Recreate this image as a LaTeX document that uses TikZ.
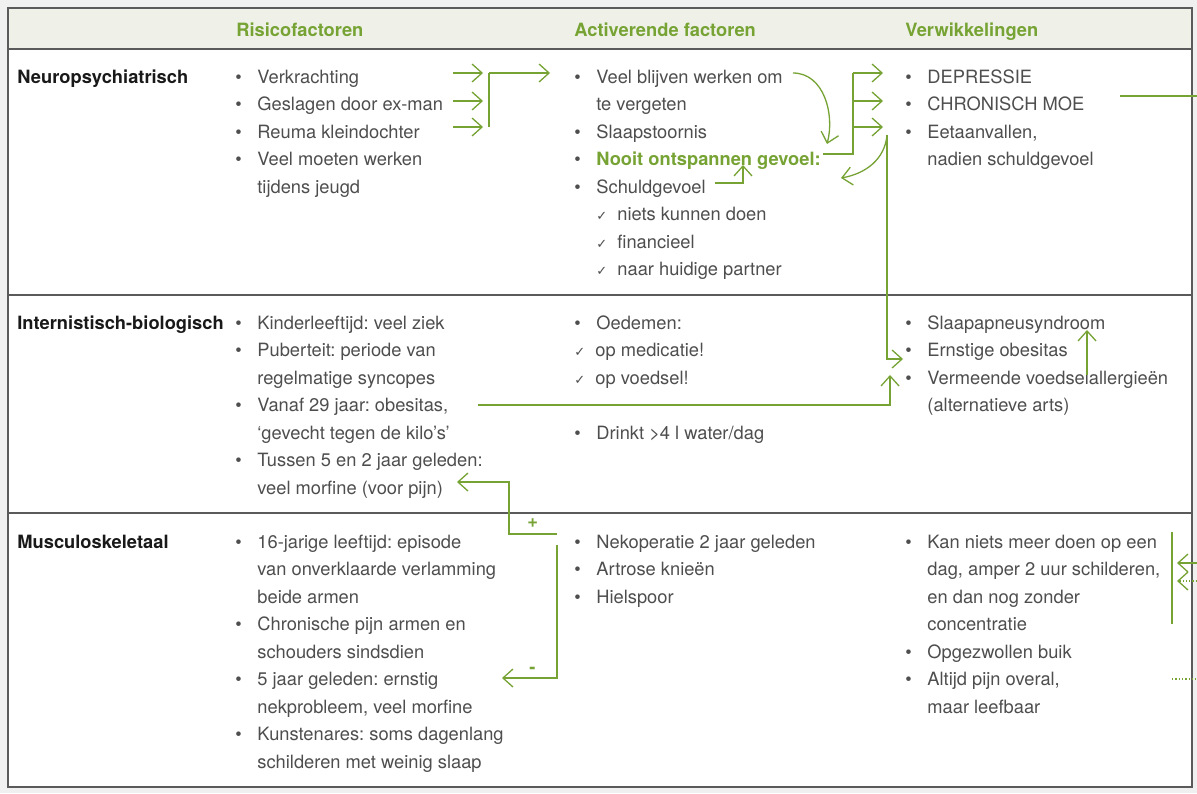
\documentclass[tikz,border=0pt]{standalone}
\usepackage{fontspec}
\setmainfont{TeX Gyre Heros}
\newfontfamily\symf{DejaVu Sans}
\usetikzlibrary{arrows.meta}
\frenchspacing

\definecolor{groen}{RGB}{118,163,52}
\definecolor{tekst}{RGB}{78,78,78}
\definecolor{kader}{RGB}{90,90,90}
\definecolor{kopvul}{RGB}{239,241,232}
\definecolor{achter}{RGB}{239,240,239}

\newcommand{\punt}{\makebox[11pt][l]{•}}
\newcommand{\insp}{\hspace*{11pt}}
\newcommand{\vink}{\makebox[10.5pt][l]{\symf\fontsize{6.5}{6.5}\selectfont ✓}}

\begin{document}
\begin{tikzpicture}[
x=0.5pt, y=-0.5pt,
cel/.style={anchor=base west, align=left, inner sep=0pt, text=tekst, font=\fontsize{9.15}{13.75}\selectfont},
kop/.style={anchor=base west, inner sep=0pt, text=groen, font=\fontsize{9.15}{13.75}\selectfont\bfseries},
rij/.style={anchor=base west, inner sep=0pt, text=black!90, font=\fontsize{9.15}{13.75}\selectfont\bfseries},
pijl/.style={draw=groen, line width=0.65pt, arrows={-{Straight Barb[length=5pt,width=9pt]}}},
lijn/.style={draw=groen, line width=0.65pt}]
% Background and table
\useasboundingbox[fill=achter] (0,0) rectangle (1197,793);
\fill[white] (8,8) rectangle (1192,787);
\fill[kopvul] (8,8) rectangle (1192,49);
\draw[kader, line width=0.6pt] (8,49) -- (1192,49);
\draw[kader, line width=0.6pt] (8,295) -- (1192,295);
\draw[kader, line width=0.6pt] (8,513) -- (1192,513);
\draw[kader, line width=0.7pt] (8,8) rectangle (1192,787);
% Header
\node[kop] (hrisico) at (236,36) {Risicofactoren};
\node[kop] (hactief) at (574,36) {Activerende factoren};
\node[kop] (hverw) at (905,36) {Verwikkelingen};
% Rows
\node[rij] (neuro) at (17,83) {Neuropsychiatrisch};
\node[rij] (intern) at (17,329) {Internistisch-biologisch};
\node[rij] (musc) at (17,548) {Musculoskeletaal};
% Cells (placed at the baseline of their last line)
\node[cel] (r1k1) at (235,193) {\punt Verkrachting\\ \punt Geslagen door ex-man\\ \punt Reuma kleindochter\\ \punt Veel moeten werken\\ \insp tijdens jeugd};
\node[cel] (r1k2) at (574,275.5) {\punt Veel blijven werken om\\ \insp te vergeten\\ \punt Slaapstoornis\\ \punt{\color{groen}\bfseries Nooit ontspannen gevoel:}\\ \punt Schuldgevoel\\ \insp\vink niets kunnen doen\\ \insp\vink financieel\\ \insp\vink naar huidige partner};
\node[cel] (r1k3) at (905,165.5) {\punt DEPRESSIE\\ \punt CHRONISCH MOE\\ \punt Eetaanvallen,\\ \insp nadien schuldgevoel};
\node[cel] (r2k1) at (235,494) {\punt Kinderleeftijd: veel ziek\\ \punt Puberteit: periode van\\ \insp regelmatige syncopes\\ \punt Vanaf 29 jaar: obesitas,\\ \insp ‘gevecht tegen de kilo’s’\\ \punt Tussen 5 en 2 jaar geleden:\\ \insp veel morfine (voor pijn)};
\node[cel] (r2k2) at (574,439) {\punt Oedemen:\\ \vink op medicatie!\\ \vink op voedsel!\\ \mbox{}\\ \punt Drinkt >4 l water/dag};
\node[cel] (r2k3) at (905,411.5) {\punt Slaapapneusyndroom\\ \punt Ernstige obesitas\\ \punt Vermeende voedselallergieën\\ \insp (alternatieve arts)};
\node[cel] (r3k1) at (235,768) {\punt 16-jarige leeftijd: episode\\ \insp van onverklaarde verlamming\\ \insp beide armen\\ \punt Chronische pijn armen en\\ \insp schouders sindsdien\\ \punt 5 jaar geleden: ernstig\\ \insp nekprobleem, veel morfine\\ \punt Kunstenares: soms dagenlang\\ \insp schilderen met weinig slaap};
\node[cel] (r3k2) at (574,603) {\punt Nekoperatie 2 jaar geleden\\ \punt Artrose knieën\\ \punt Hielspoor};
\node[cel] (r3k3) at (905,713) {\punt Kan niets meer doen op een\\ \insp dag, amper 2 uur schilderen,\\ \insp en dan nog zonder\\ \insp concentratie\\ \punt Opgezwollen buik\\ \punt Altijd pijn overal,\\ \insp maar leefbaar};
\node[kop] (plus) at (527,527) {+};
\node[kop] (min) at (529,673) {-};
% Coordinates
\coordinate (verkr) at (453,73);
\coordinate (verkr2) at (483,73);
\coordinate (geslag) at (453,101);
\coordinate (geslag2) at (483,101);
\coordinate (reuma) at (453,127);
\coordinate (reuma2) at (483,127);
\coordinate (klemtop) at (489,73);
\coordinate (klembot) at (489,127);
\coordinate (veel) at (574,73);
\coordinate (werken) at (793,73);
\coordinate (werken2) at (827,144);
\coordinate (nooit) at (823,154);
\coordinate (splits) at (853,73);
\coordinate (depr) at (883,73);
\coordinate (moe) at (883,101);
\coordinate (eet) at (883,127);
\coordinate (eet2) at (887,135);
\coordinate (nooit2) at (841,178);
\coordinate (obes) at (903,359);
\coordinate (schuld) at (715,183);
\coordinate (schuld2) at (743,165);
\coordinate (vanaf) at (478,405);
\coordinate (verm) at (890,375);
\coordinate (allerg) at (1087,375);
\coordinate (apneu) at (1087,330);
\coordinate (moe2) at (1120,96);
\coordinate (uitrechts) at (1197,96);
\coordinate (kantop) at (1172,532);
\coordinate (kanbot) at (1172,624);
\coordinate (inA) at (1197,563);
\coordinate (inA2) at (1177,563);
\coordinate (inB) at (1197,581);
\coordinate (inB2) at (1177,581);
\coordinate (pijn) at (1172,679);
\coordinate (pijn2) at (1197,679);
\coordinate (plusA) at (557,534);
\coordinate (plusB) at (509,482);
\coordinate (morf) at (457,482);
\coordinate (minA) at (557,545);
\coordinate (minB) at (557,678);
\coordinate (ernstig) at (502,678);
% Lines
\draw[pijl] (verkr) -- (verkr2);
\draw[pijl] (geslag) -- (geslag2);
\draw[pijl] (reuma) -- (reuma2);
\draw[lijn] (klembot) -- (klemtop);
\draw[pijl] (klemtop) -- ([xshift=-12pt]veel);
\draw[pijl] (werken) to[out=0, in=75] (werken2);
\draw[lijn] (nooit) -| (splits);
\draw[pijl] (splits) -- (depr);
\draw[pijl] (splits |- moe) -- (moe);
\draw[pijl] (splits |- eet) -- (eet);
\draw[pijl] (eet2) to[out=-95, in=10] (nooit2);
\draw[pijl] (eet2) |- (obes);
\draw[pijl] (schuld) -| (schuld2);
\draw[pijl] (vanaf) -| (verm);
\draw[pijl] (allerg) -- (apneu);
\draw[lijn] (moe2) -- (uitrechts);
\draw[lijn] (kantop) -- (kanbot);
\draw[pijl] (inA) -- (inA2);
\draw[pijl, densely dotted] (inB) -- (inB2);
\draw[lijn, densely dotted] (pijn) -- (pijn2);
\draw[pijl] (plusA) -| (plusB) -- (morf);
\draw[pijl] (minA) -- (minB) -- (ernstig);
\end{tikzpicture}
\end{document}
